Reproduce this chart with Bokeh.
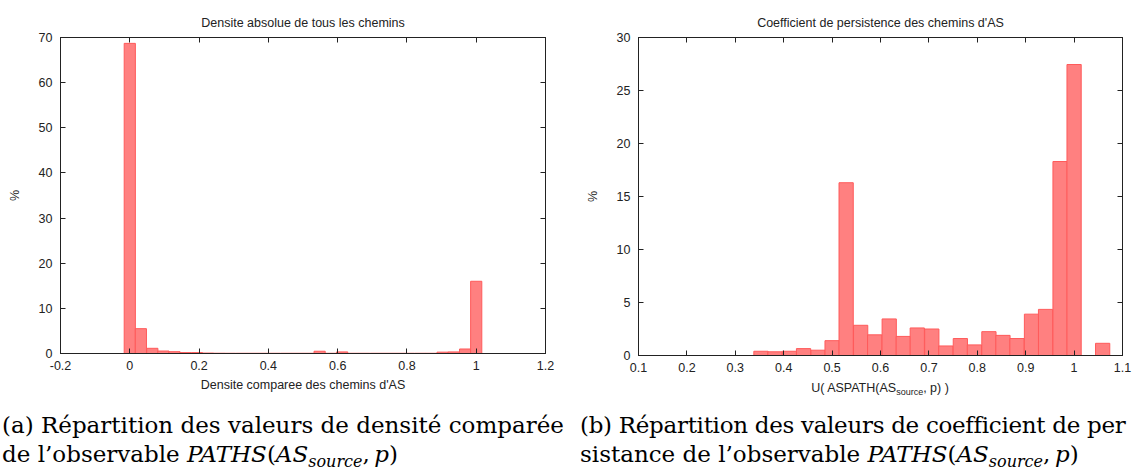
from bokeh.plotting import figure
from bokeh.models import (Range1d, FixedTicker, LinearAxis, Div,
                          ColumnDataSource, CustomJSTickFormatter)
from bokeh.layouts import row, column
from bokeh.embed import file_html
from bokeh.resources import INLINE

# ---------------- data : left histogram (compared density of AS paths)
dens_bins = [0.000, 0.032, 0.065, 0.097, 0.129, 0.161, 0.194, 0.226, 0.258, 0.290,
             0.323, 0.355, 0.387, 0.419, 0.452, 0.484, 0.516, 0.548, 0.581, 0.613,
             0.645, 0.677, 0.710, 0.742, 0.774, 0.806, 0.839, 0.871, 0.903, 0.935,
             0.968, 1.000]
dens_pct = [68.7, 5.5, 1.15, 0.55, 0.4, 0.2, 0.2, 0.1, 0.06, 0.05,
            0.05, 0.05, 0.05, 0.05, 0.05, 0.05, 0.05, 0.5, 0.05, 0.35,
            0.05, 0.05, 0.05, 0.05, 0.05, 0.05, 0.05, 0.05, 0.3, 0.35,
            1.0, 16.0]
dens_xticks = [-0.2, 0.0, 0.2, 0.4, 0.6, 0.8, 1.0, 1.2]
dens_xlabels = ["-0.2", "0", "0.2", "0.4", "0.6", "0.8", "1", "1.2"]
dens_yticks = [0, 10, 20, 30, 40, 50, 60, 70]
dens_ylabels = ["0", "10", "20", "30", "40", "50", "60", "70"]

# ---------------- data : right histogram (persistence coefficient)
pers_bins = [0.353, 0.382, 0.412, 0.441, 0.471, 0.500, 0.529, 0.559, 0.588, 0.618,
             0.647, 0.676, 0.706, 0.735, 0.765, 0.794, 0.824, 0.853, 0.882, 0.912,
             0.941, 0.971, 1.000, 1.029, 1.059]
pers_pct = [0.4, 0.35, 0.4, 0.65, 0.5, 1.4, 16.3, 2.85, 1.95, 3.45,
            1.8, 2.6, 2.5, 0.9, 1.6, 1.0, 2.25, 1.9, 1.6, 3.9,
            4.35, 18.3, 27.45, 0.0, 1.15]
pers_xticks = [0.1, 0.2, 0.3, 0.4, 0.5, 0.6, 0.7, 0.8, 0.9, 1.0, 1.1]
pers_xlabels = ["0.1", "0.2", "0.3", "0.4", "0.5", "0.6", "0.7", "0.8", "0.9", "1", "1.1"]
pers_yticks = [0, 5, 10, 15, 20, 25, 30]
pers_ylabels = ["0", "5", "10", "15", "20", "25", "30"]

DENS_BIN_W = 1 / 31
PERS_BIN_W = 1 / 34

FONT = "Liberation Sans"
FS = "12.5px"
INK = "#222222"
FILL = "#ff8080"
EDGE = "#ff5a5a"


def label_formatter(ticks, labels):
    return CustomJSTickFormatter(args=dict(tv=ticks, tl=labels), code="""
        for (let i = 0; i < tv.length; i++) {
            if (Math.abs(tv[i] - tick) < 1e-6) return tl[i];
        }
        return "";
    """)


def style_axis(ax, ticks, labels=None, standoff=7):
    ax.ticker = FixedTicker(ticks=ticks)
    ax.major_tick_in = 5
    ax.major_tick_out = 0
    ax.minor_tick_in = 0
    ax.minor_tick_out = 0
    ax.axis_line_color = INK
    ax.axis_line_width = 1
    ax.major_tick_line_color = INK
    ax.axis_label_text_font = FONT
    ax.axis_label_text_font_size = FS
    ax.axis_label_text_font_style = "normal"
    ax.axis_label_text_color = INK
    if labels is not None:
        ax.formatter = label_formatter(ticks, labels)
        ax.major_label_text_font = FONT
        ax.major_label_text_font_size = FS
        ax.major_label_text_color = INK
        ax.major_label_standoff = standoff
    else:
        # mirrored border ticks (gnuplot style), no labels
        ax.formatter = CustomJSTickFormatter(code="return '';")
        ax.major_label_text_font_size = "0px"
        ax.major_label_standoff = 0
        ax.axis_label_standoff = 0


def make_panel(width, height, mb_left, mb_right, mb_bottom, xr, yr,
               xt, xl, yt, yl, title, bins, pct, bin_w, xlabel=None):
    p = figure(width=width, height=height,
               x_range=Range1d(*xr), y_range=Range1d(*yr),
               output_backend="svg", toolbar_location=None,
               x_axis_location=None, y_axis_location=None,
               min_border_left=mb_left, min_border_right=mb_right,
               min_border_top=37, min_border_bottom=mb_bottom,
               title=title)
    p.title.align = "center"
    p.title.text_font = FONT
    p.title.text_font_size = FS
    p.title.text_font_style = "normal"
    p.title.text_color = INK
    p.title.standoff = 15

    xb = LinearAxis()
    style_axis(xb, xt, xl, standoff=7)
    if xlabel:
        xb.axis_label = xlabel
        xb.axis_label_standoff = 5
    p.add_layout(xb, "below")

    ylft = LinearAxis()
    style_axis(ylft, yt, yl, standoff=8)
    ylft.axis_label = "%"
    ylft.axis_label_standoff = 14
    p.add_layout(ylft, "left")

    xa = LinearAxis()
    style_axis(xa, xt)
    p.add_layout(xa, "above")

    yrt = LinearAxis()
    style_axis(yrt, yt)
    p.add_layout(yrt, "right")

    src = ColumnDataSource(dict(x=bins, top=pct))
    p.vbar(x="x", top="top", bottom=0, width=bin_w, source=src,
           fill_color=FILL, line_color=EDGE, line_width=1)

    for g in p.grid:
        g.visible = False
        g.grid_line_color = None
    p.outline_line_color = INK
    p.background_fill_color = "white"
    p.border_fill_color = "white"
    return p


left = make_panel(572, 394, 60, 27, 39, (-0.2, 1.2), (0, 70),
                  dens_xticks, dens_xlabels, dens_yticks, dens_ylabels,
                  "Densite absolue de tous les chemins",
                  dens_bins, dens_pct, DENS_BIN_W,
                  xlabel="Densite comparee des chemins d'AS")

right = make_panel(560, 380, 66, 10, 25, (0.1, 1.1), (0, 30),
                   pers_xticks, pers_xlabels, pers_yticks, pers_ylabels,
                   "Coefficient de persistence des chemins d'AS",
                   pers_bins, pers_pct, PERS_BIN_W)

VIS = {"overflow": "visible"}

right_xlabel = Div(
    text=("<div style=\"margin-left:66px;width:484px;height:14px;text-align:center;"
          "font-family:'Liberation Sans';font-size:12.5px;line-height:14px;"
          "color:#222;white-space:nowrap;\">U( ASPATH(AS"
          "<span style=\"font-size:9px;position:relative;top:3px;\">source</span>"
          ", p) )</div>"),
    width=560, height=14, margin=(0, 0, 0, 0), styles=VIS)

CAP = ("font-family:'DejaVu Serif';font-size:23px;line-height:29px;color:#000;"
       "white-space:nowrap;height:77px;box-sizing:border-box;padding-top:17px;")
SUB = "font-size:16px;position:relative;top:5px;font-style:italic;"

cap_a = Div(
    text=(f"<div style=\"{CAP}margin-left:2px;width:568px;\">"
          "(a) Répartition des valeurs de densité comparée<br>"
          "de l’observable <i>PATHS</i>(<i>AS</i>"
          f"<span style=\"{SUB}\">source</span>,<i>&#8201;p</i>)</div>"),
    width=572, height=77, margin=(0, 0, 0, 0), styles=VIS)

cap_b = Div(
    text=(f"<div style=\"{CAP}margin-left:8px;width:552px;\">"
          "<span style=\"letter-spacing:-0.3px;\">"
          "(b) Répartition des valeurs de coefficient de per</span><br>"
          "sistance de l’observable <i>PATHS</i>(<i>AS</i>"
          f"<span style=\"{SUB}\">source</span>,<i>&#8201;p</i>)</div>"),
    width=560, height=77, margin=(0, 0, 0, 0), styles=VIS)

layout = row(column(left, cap_a), column(right, right_xlabel, cap_b))

open("out.html", "w").write(file_html(layout, INLINE))
